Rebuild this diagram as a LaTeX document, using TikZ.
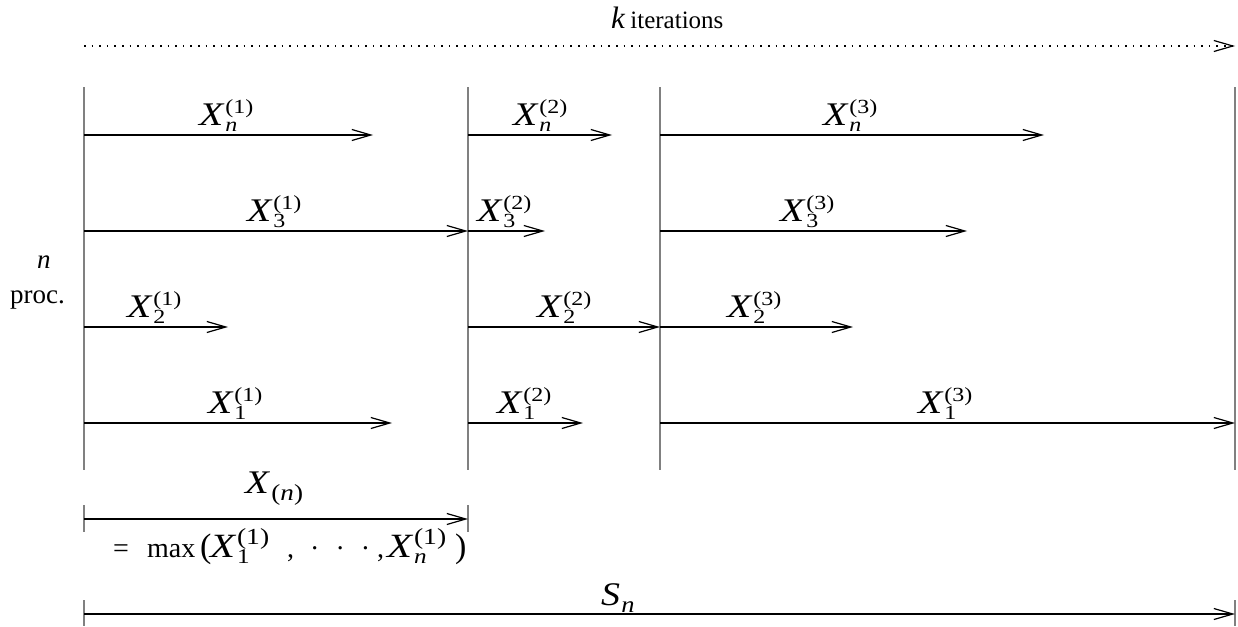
\documentclass[tikz,border=0pt]{standalone}
\usepackage{fontspec}
\setmainfont{Liberation Serif}
\usetikzlibrary{arrows.meta}
\newcommand\supsz{\fontsize{20}{20}\selectfont}
\newcommand\Xs[2]{\scalebox{1.2}[1]{\textit{X}\kern0.5pt\rlap{\raisebox{-6pt}{\supsz #1}}\raisebox{12pt}{\supsz(#2)}}}
\newcommand\XsM[2]{\scalebox{1.2}[1]{{\fontsize{34}{34}\selectfont\textit{X}}\kern0.5pt\rlap{\raisebox{-6pt}{\fontsize{21}{21}\selectfont #1}}\raisebox{13pt}{\fontsize{23}{23}\selectfont(#2)}}}
\tikzset{
  base/.style={x=1pt,y=-1pt},
  lbl/.style={anchor=base west,inner sep=0pt,font=\fontsize{33}{36}\selectfont},
  small/.style={anchor=base west,inner sep=0pt,font=\fontsize{27}{29}\selectfont},
  run/.style={line width=1.2pt,-{Straight Barb[length=19pt,width=11pt,line width=1.2pt]}},
  bar/.style={line width=2pt,draw=black!50},
  dots/.style={line width=1.5pt,dash pattern=on 1.5pt off 6.1pt,-{Straight Barb[length=19pt,width=11pt,line width=1.2pt]}}
}
\begin{document}
\begin{tikzpicture}[base]
\useasboundingbox (0,0) rectangle (1238,626);
% vertical separators
\foreach \n/\x in {a/84,b/468,c/660,d/1235}{
  \coordinate (\n top) at (\x,87);
  \coordinate (\n bot) at (\x,470);
  \draw[bar] (\n top) -- (\n bot);
}
% top dotted arrow
\coordinate (kL) at (84,46);
\coordinate (kR) at (1235,46);
\draw[dots] (kL) -- (kR);
\node[anchor=base west,inner sep=0pt] (klab) at (611,29) {{\fontsize{31}{33}\selectfont\textit{k}}\kern5pt{\fontsize{25}{27}\selectfont iterations}};
% row n
\coordinate (n1s) at (84,135);  \coordinate (n1e) at (373,135);
\coordinate (n2s) at (468,135); \coordinate (n2e) at (612,135);
\coordinate (n3s) at (660,135); \coordinate (n3e) at (1044,135);
% row 3
\coordinate (t1s) at (84,231);  \coordinate (t1e) at (468,231);
\coordinate (t2s) at (468,231); \coordinate (t2e) at (545,231);
\coordinate (t3s) at (660,231); \coordinate (t3e) at (967,231);
% row 2
\coordinate (w1s) at (84,327);  \coordinate (w1e) at (228,327);
\coordinate (w2s) at (468,327); \coordinate (w2e) at (660,327);
\coordinate (w3s) at (660,327); \coordinate (w3e) at (853,327);
% row 1
\coordinate (o1s) at (84,423);  \coordinate (o1e) at (392,423);
\coordinate (o2s) at (468,423); \coordinate (o2e) at (583,423);
\coordinate (o3s) at (660,423); \coordinate (o3e) at (1235,423);
\foreach \r in {n,t,w,o}{
  \foreach \i in {1,2,3}{
    \draw[run] (\r\i s) -- (\r\i e);
  }
}
% labels
\node[lbl] (Ln1) at (199,125) {\Xs{\textit{n}}{1}};
\node[lbl] (Ln2) at (513,125) {\Xs{\textit{n}}{2}};
\node[lbl] (Ln3) at (823,125) {\Xs{\textit{n}}{3}};
\node[lbl] (Lt1) at (247,221) {\Xs{3}{1}};
\node[lbl] (Lt2) at (477,221) {\Xs{3}{2}};
\node[lbl] (Lt3) at (780,221) {\Xs{3}{3}};
\node[lbl] (Lw1) at (127,317) {\Xs{2}{1}};
\node[lbl] (Lw2) at (537,317) {\Xs{2}{2}};
\node[lbl] (Lw3) at (727,317) {\Xs{2}{3}};
\node[lbl] (Lo1) at (208,413) {\Xs{1}{1}};
\node[lbl] (Lo2) at (497,413) {\Xs{1}{2}};
\node[lbl] (Lo3) at (918,413) {\Xs{1}{3}};
% n proc.
\node[small] (nlab) at (37,268) {\textit{n}};
\node[small] (proc) at (10,303) {proc.};
% X_(n) dimension
\coordinate (xa) at (84,519); \coordinate (xb) at (468,519);
\coordinate (xat) at (84,505); \coordinate (xab) at (84,532);
\coordinate (xbt) at (468,505); \coordinate (xbb) at (468,532);
\draw[bar] (xat) -- (xab);
\draw[bar] (xbt) -- (xbb);
\draw[run] (xa) -- (xb);
\node[lbl] (Xn) at (245,493) {\scalebox{1.18}[1]{\textit{X}\kern1pt\raisebox{-7pt}{\fontsize{23}{23}\selectfont(\textit{n})}}};
\node[lbl,font=\fontsize{28}{30}\selectfont] (maxlab) at (113,557) {\makebox[34pt][l]{=}\makebox[53pt][l]{max}\makebox[10pt][l]{\fontsize{34}{34}\selectfont(}\makebox[77pt][l]{\XsM{1}{1}}\makebox[23pt][l]{,}\makebox[67pt][l]{·\kern16pt·\kern16pt·}\makebox[10pt][l]{,}\makebox[68pt][l]{\XsM{\textit{n}}{1}}{\fontsize{34}{34}\selectfont)}};
% S_n dimension
\coordinate (sa) at (84,614); \coordinate (sb) at (1235,614);
\coordinate (sat) at (84,600); \coordinate (sab) at (84,626);
\coordinate (sbt) at (1235,600); \coordinate (sbb) at (1235,626);
\draw[bar] (sat) -- (sab);
\draw[bar] (sbt) -- (sbb);
\draw[run] (sa) -- (sb);
\node[lbl] (Sn) at (601,605) {\scalebox{1.15}[1]{\textit{S}\kern1pt\raisebox{-7pt}{\fontsize{23}{23}\selectfont\textit{n}}}};
\end{tikzpicture}
\end{document}
